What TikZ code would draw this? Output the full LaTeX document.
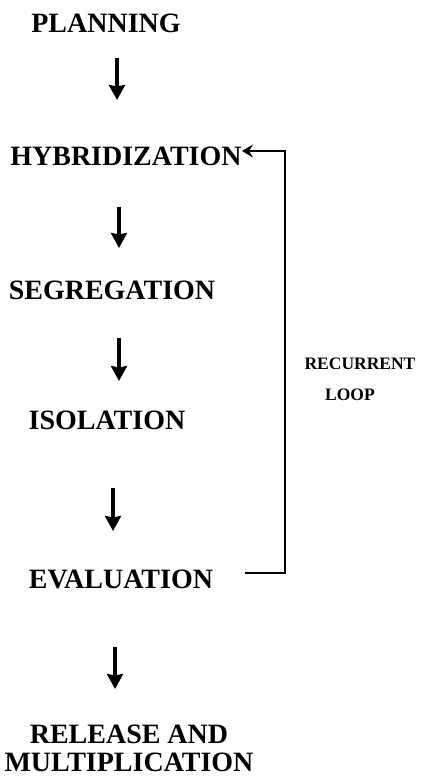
\documentclass[tikz,border=0pt]{standalone}
\usepackage{fontspec}
\setmainfont{Liberation Serif}
\usetikzlibrary{arrows.meta}
\tikzset{
  stage/.style={inner sep=0pt, anchor=center, font=\fontsize{28}{28}\selectfont\bfseries, align=center},
  looplabel/.style={inner sep=0pt, anchor=center, font=\fontsize{17.5}{18}\selectfont\bfseries},
  arr/.style={line width=3.2pt, -{Stealth[length=15pt,width=16pt,inset=1.5pt]}},
  looparr/.style={line width=2.8pt, -{Stealth[length=11pt,width=13pt,inset=4pt]}}
}
\begin{document}
\begin{tikzpicture}[x=1pt,y=-1pt]
\useasboundingbox (0,0) rectangle (421,776);
\node[stage] (plan) at (106,23) {PLANNING};
\node[stage] (hyb) at (126,156) {HYBRIDIZATION};
\node[stage] (seg) at (112,290) {SEGREGATION};
\node[stage] (iso) at (107,420) {ISOLATION};
\node[stage] (eval) at (121,579) {EVALUATION};
\node[stage] (rel) at (129,748) {RELEASE AND\\MULTIPLICATION};
\node[looplabel] (rec) at (360,364) {RECURRENT};
\node[looplabel] (lp) at (350,395) {LOOP};
% arrow end points
\coordinate (a1t) at (117,58);  \coordinate (a1b) at (117,100);
\coordinate (a2t) at (119,207); \coordinate (a2b) at (119,248);
\coordinate (a3t) at (119,338); \coordinate (a3b) at (119,381);
\coordinate (a4t) at (113,488); \coordinate (a4b) at (113,531);
\coordinate (a5t) at (115,647); \coordinate (a5b) at (115,689);
\draw[arr] (a1t) -- (a1b);
\draw[arr] (a2t) -- (a2b);
\draw[arr] (a3t) -- (a3b);
\draw[arr] (a4t) -- (a4b);
\draw[arr] (a5t) -- (a5b);
% recurrent loop
\coordinate (ls) at (245,573);
\coordinate (lc1) at (285,573);
\coordinate (lc2) at (285,151);
\coordinate (le) at (242,151);
\draw[looparr] (ls) -- (lc1) -- (lc2) -- (le);
\end{tikzpicture}
\end{document}
